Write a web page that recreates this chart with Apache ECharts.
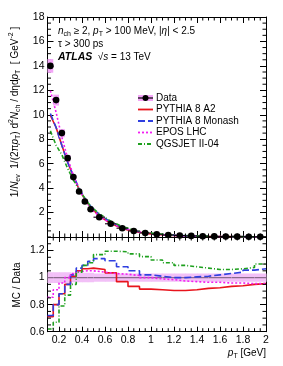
<!DOCTYPE html>
<html><head><meta charset="utf-8">
<script src="https://cdn.jsdelivr.net/npm/echarts@6/dist/echarts.min.js"></script>
<style>html,body{margin:0;padding:0;background:#fff}#c{width:283px;height:366px}</style>
</head><body><div id="c"></div>
<script>
// ---- data ----
const binEdges = [0.1,0.15,0.2,0.25,0.3,0.35,0.4,0.45,0.5,0.6,0.7,0.8,0.9,1.0,1.1,1.2,1.3,1.4,1.5,1.6,1.7,1.8,1.9,2.0];
const dataValues = [14.0,11.2,8.5,6.45,4.9,3.72,2.9,2.27,1.62,1.08,0.72,0.49,0.33,0.23,0.165,0.12,0.088,0.066,0.05,0.038,0.029,0.022,0.017];
const dataRelErr = [0.04,0.04,0.04,0.04,0.035,0.035,0.035,0.035,0.03,0.03,0.03,0.03,0.03,0.03,0.03,0.03,0.03,0.03,0.03,0.03,0.03,0.03,0.03];
const a2Spectrum = [9.94,8.96,7.48,6.13,4.95,3.91,3.09,2.43,1.72,1.12,0.70,0.46,0.30,0.21,0.15,0.109,0.08,0.061,0.046,0.036,0.027,0.021,0.016];
const monashSpectrum = [10.1,8.96,7.48,6.13,5.0,3.98,3.16,2.54,1.85,1.22,0.78,0.51,0.34,0.23,0.165,0.12,0.088,0.067,0.051,0.039,0.030,0.023,0.018];
const eposSpectrum = [11.97,10.19,8.16,6.45,5.05,3.89,3.05,2.38,1.68,1.11,0.74,0.50,0.33,0.23,0.163,0.117,0.085,0.064,0.048,0.036,0.028,0.021,0.016];
const qgsSpectrum = [8.68,7.50,6.72,5.61,4.66,3.87,3.16,2.52,1.90,1.29,0.86,0.58,0.38,0.26,0.183,0.131,0.095,0.071,0.053,0.040,0.031,0.024,0.019];
const a2Ratio = [0.71,0.80,0.88,0.95,1.01,1.05,1.065,1.07,1.06,1.035,0.97,0.935,0.915,0.91,0.905,0.905,0.91,0.92,0.925,0.935,0.94,0.95,0.955];
const monashRatio = [0.72,0.80,0.88,0.95,1.02,1.07,1.09,1.12,1.14,1.125,1.08,1.05,1.02,1.01,1.0,1.0,1.005,1.01,1.02,1.03,1.04,1.055,1.065];
const eposRatio = [0.855,0.91,0.96,1.0,1.03,1.045,1.05,1.05,1.04,1.03,1.025,1.015,1.0,0.99,0.985,0.975,0.97,0.965,0.965,0.96,0.96,0.955,0.955];
const qgsRatio = [0.62,0.67,0.79,0.87,0.95,1.04,1.09,1.11,1.17,1.195,1.19,1.175,1.155,1.13,1.11,1.09,1.08,1.07,1.06,1.06,1.065,1.075,1.10];
const seriesNames = ['Data','PYTHIA 8 A2','PYTHIA 8 Monash','EPOS LHC','QGSJET II-04'];
const xTickValues = [0.2,0.4,0.6,0.8,1,1.2,1.4,1.6,1.8,2];
const specTickValues = [2,4,6,8,10,12,14,16,18];
const ratioTickValues = [0.6,0.8,1,1.2];

// ---- styles ----
const FONT = 'Liberation Sans, Arial, sans-serif';
const styles = [
  {color:'#e8141c', type:'solid'},
  {color:'#2f3fe0', type:[7,3]},
  {color:'#f21ef2', type:[2,2]},
  {color:'#1ea01e', type:[4,2,1,2]}
];
const spectra = [a2Spectrum, monashSpectrum, eposSpectrum, qgsSpectrum];
const ratios = [a2Ratio, monashRatio, eposRatio, qgsRatio];
const nb = dataValues.length;
const centers = [];
for (let i=0;i<nb;i++) centers.push((binEdges[i]+binEdges[i+1])/2);

const X0=0.1, X1=2.0, S0=0, S1=18, R0=0.6, R1=1.3;

function xAxis(gi, pos, labels, len){
  return {type:'value', gridIndex:gi, position:pos, min:X0, max:X1,
    axisLine:{show:true, onZero:false, lineStyle:{color:'#000', width:1}},
    axisTick:{show:true, inside:true, length:len, customValues:xTickValues, lineStyle:{color:'#000', width:1}},
    axisLabel:{show:labels, customValues:xTickValues, color:'#000', fontFamily:FONT, fontSize:10.5, margin:3},
    splitLine:{show:false}};
}
function yAxis(gi, pos, min, max, ticks, labels, len){
  return {type:'value', gridIndex:gi, position:pos, min:min, max:max,
    axisLine:{show:true, onZero:false, lineStyle:{color:'#000', width:1}},
    axisTick:{show:true, inside:true, length:len, customValues:ticks, lineStyle:{color:'#000', width:1}},
    axisLabel:{show:labels, customValues:ticks, color:'#000', fontFamily:FONT, fontSize:10.5, margin:3},
    splitLine:{show:false}};
}

function minorTickSeries(xi, yi, ymin, ymax, ystep, ymaj){
  return {type:'custom', xAxisIndex:xi, yAxisIndex:yi, silent:true, clip:false, z:5,
    data:[[X0, ymin]],
    renderItem:(p, api)=>{
      const ch=[];
      const ln=(a,b)=>ch.push({type:'line', shape:{x1:a[0],y1:a[1],x2:b[0],y2:b[1]}, style:{stroke:'#000', lineWidth:1}});
      for (let k=0;k*0.05<=X1-X0+1e-9;k++){
        const x = X0 + k*0.05;
        const isMaj = xTickValues.some(v=>Math.abs(v-x)<1e-6);
        if (isMaj) continue;
        const b = api.coord([x, ymin]), t = api.coord([x, ymax]);
        ln([b[0], b[1]], [b[0], b[1]-3.5]);
        ln([t[0], t[1]], [t[0], t[1]+3.5]);
      }
      for (let k=0; ymin + k*ystep <= ymax+1e-9; k++){
        const y = ymin + k*ystep;
        if (ymaj.some(v=>Math.abs(v-y)<1e-6)) continue;
        const l = api.coord([X0, y]), r = api.coord([X1, y]);
        ln([l[0], l[1]], [l[0]+3.5, l[1]]);
        ln([r[0], r[1]], [r[0]-3.5, r[1]]);
      }
      return {type:'group', children:ch};
    }};
}

const series = [];
// upper MC curves
spectra.forEach((arr, k)=>{
  series.push({type:'line', name:seriesNames[k+1], xAxisIndex:0, yAxisIndex:0, symbol:'none', z:3,
    data: arr.map((v,i)=>[centers[i], v]),
    lineStyle:{color:styles[k].color, type:styles[k].type, width:1.6}, animation:false});
});
// upper data
series.push({type:'custom', name:'Data', xAxisIndex:0, yAxisIndex:0, z:6, clip:false,
  data: dataValues.map((v,i)=>[binEdges[i], binEdges[i+1], v, v*dataRelErr[i]]),
  renderItem:(p, api)=>{
    const lo=api.value(0), hi=api.value(1), v=api.value(2), e=api.value(3);
    const a=api.coord([lo, v+e]), b=api.coord([hi, v-e]);
    const l=api.coord([lo, v]), r=api.coord([hi, v]), c=api.coord([(lo+hi)/2, v]);
    return {type:'group', children:[
      {type:'rect', shape:{x:a[0], y:a[1], width:b[0]-a[0], height:b[1]-a[1]}, style:{fill:'#f3a6f7'}},
      {type:'line', shape:{x1:l[0], y1:l[1], x2:r[0], y2:r[1]}, style:{stroke:'#000', lineWidth:1}},
      {type:'circle', shape:{cx:c[0], cy:c[1], r:3.3}, style:{fill:'#000'}}
    ]};
  }, animation:false});
// ratio band
series.push({type:'custom', xAxisIndex:2, yAxisIndex:2, z:2, clip:true,
  data: dataRelErr.map((e,i)=>[binEdges[i], binEdges[i+1], e]),
  renderItem:(p, api)=>{
    const lo=api.value(0), hi=api.value(1), e=api.value(2);
    const a=api.coord([lo, 1+e]), b=api.coord([hi, 1-e]);
    const l=api.coord([lo, 1]), r=api.coord([hi, 1]);
    return {type:'group', children:[
      {type:'rect', shape:{x:a[0], y:a[1], width:b[0]-a[0]+0.5, height:b[1]-a[1]}, style:{fill:'#f2c0f7'}},
      {type:'line', shape:{x1:l[0], y1:l[1], x2:r[0], y2:r[1]}, style:{stroke:'#8a6a8c', lineWidth:1.2}}
    ]};
  }, animation:false});
// ratio histograms
ratios.forEach((arr,k)=>{
  const pts=[];
  arr.forEach((v,i)=>{ pts.push([binEdges[i], v]); pts.push([binEdges[i+1], v]); });
  series.push({type:'line', xAxisIndex:2, yAxisIndex:2, symbol:'none', z:3,
    data:pts, lineStyle:{color:styles[k].color, type:styles[k].type, width:1.6}, animation:false});
});
series.push(minorTickSeries(0,0,S0,S1,0.5,specTickValues.concat([0])));
series.push(minorTickSeries(2,2,R0,R1,0.05,ratioTickValues));

// legend graphic
const legendEls = [];
const lx=138, ly0=98, lgap=11.5;
seriesNames.forEach((nm,k)=>{
  const y = ly0 + k*lgap;
  if (k===0){
    legendEls.push({type:'rect', shape:{x:lx, y:y-3, width:15, height:6}, style:{fill:'#f3a6f7'}});
    legendEls.push({type:'line', shape:{x1:lx, y1:y, x2:lx+15, y2:y}, style:{stroke:'#000', lineWidth:1.2}});
    legendEls.push({type:'circle', shape:{cx:lx+7.5, cy:y, r:3}, style:{fill:'#000'}});
  } else {
    const s = styles[k-1];
    legendEls.push({type:'line', shape:{x1:lx, y1:y, x2:lx+15, y2:y}, style:{stroke:s.color, lineWidth:1.8, lineDash: s.type==='solid'?null:s.type}});
  }
  legendEls.push({type:'text', x:lx+18, y:y, style:{text:nm, font:'10px '+FONT, fill:'#000', verticalAlign:'middle', textAlign:'left'}});
});

const richBase = {
  n:{fontFamily:FONT, fontSize:10, lineHeight:14, verticalAlign:'middle', fill:'#000'},
  i:{fontFamily:FONT, fontSize:10, fontStyle:'italic', lineHeight:14, verticalAlign:'middle', fill:'#000'},
  b:{fontFamily:FONT, fontSize:10.5, fontStyle:'italic', fontWeight:'bold', lineHeight:14, verticalAlign:'middle', fill:'#000'},
  sub:{fontFamily:FONT, fontSize:7, lineHeight:7, verticalAlign:'bottom', fill:'#000'},
  sup:{fontFamily:FONT, fontSize:7, lineHeight:7, verticalAlign:'top', fill:'#000'}
};

const graphics = legendEls.concat([
  {type:'text', x:58, y:31, style:{rich:richBase, text:'{i|n}{sub|ch}{n| ≥ 2, }{i|p}{sub|T}{n| > 100 MeV, |}{i|η}{n|| < 2.5}', verticalAlign:'middle'}},
  {type:'text', x:58, y:44, style:{rich:richBase, text:'{n|τ > 300 ps}', verticalAlign:'middle'}},
  {type:'text', x:58, y:57, style:{rich:richBase, text:'{b|ATLAS}{n|  √}{i|s}{n| = 13 TeV}', verticalAlign:'middle'}},
  {type:'text', x:15, y:112, rotation:Math.PI/2, style:{rich:richBase, text:'{n|1/}{i|N}{sub|ev}{n|  1/(2π}{i|p}{sub|T}{n|) d}{sup|2}{i|N}{sub|ch}{n| / dηd}{i|p}{sub|T}{n|  [ GeV}{sup|-2}{n| ]}', textAlign:'center', verticalAlign:'middle'}},
  {type:'text', x:17, y:285, rotation:Math.PI/2, style:{rich:richBase, text:'{n|MC / Data}', textAlign:'center', verticalAlign:'middle'}},
  {type:'text', x:266, y:353, style:{rich:richBase, text:'{i|p}{sub|T}{n| [GeV]}', textAlign:'right', verticalAlign:'middle'}}
]);

const chart = echarts.init(document.getElementById('c'), null, {renderer:'canvas'});
chart.setOption({
  animation:false,
  backgroundColor:'#fff',
  grid:[
    {left:47.5, top:17, width:218.5, height:220},
    {left:47.5, top:237, width:218.5, height:94.7}
  ],
  xAxis:[
    xAxis(0,'bottom',false,6), xAxis(0,'top',false,6),
    xAxis(1,'bottom',true,5), xAxis(1,'top',false,5)
  ],
  yAxis:[
    yAxis(0,'left',S0,S1,specTickValues,true,6), yAxis(0,'right',S0,S1,specTickValues,false,6),
    yAxis(1,'left',R0,R1,ratioTickValues,true,6), yAxis(1,'right',R0,R1,ratioTickValues,false,6)
  ],
  series: series,
  graphic: graphics
});
</script></body></html>
